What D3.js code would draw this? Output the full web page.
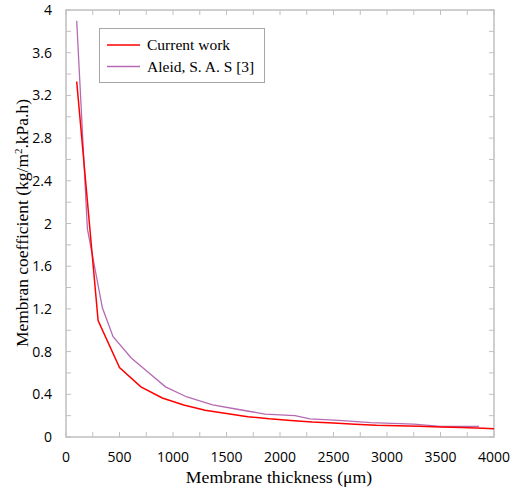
<!DOCTYPE html>
<html>
<head>
<meta charset="utf-8">
<script src="https://cdn.jsdelivr.net/npm/d3@7"></script>
<style>
    body { margin: 0; background: #fff; }
</style>
</head>
<body>
<svg id="canvas" width="514" height="490"></svg>
<script>
// values
var currentX = [100, 300, 500, 700, 900, 1100, 1300, 1500, 1700, 1900, 2100, 2300, 2500, 2700, 2900, 3100, 3300, 3500, 3700, 3900, 4000];
var currentY = [3.33, 1.09, 0.65, 0.47, 0.365, 0.30, 0.25, 0.22, 0.19, 0.17, 0.155, 0.14, 0.13, 0.12, 0.11, 0.105, 0.10, 0.093, 0.088, 0.082, 0.078];
var aleidX = [100, 200, 340, 440, 610, 740, 930, 1130, 1370, 1600, 1860, 2140, 2280, 2550, 2850, 3250, 3500, 3860];
var aleidY = [3.90, 1.95, 1.21, 0.94, 0.74, 0.63, 0.47, 0.375, 0.30, 0.26, 0.215, 0.20, 0.17, 0.155, 0.135, 0.12, 0.10, 0.10];
var xTicks = [0, 500, 1000, 1500, 2000, 2500, 3000, 3500, 4000];
var yTicks = [0, 0.4, 0.8, 1.2, 1.6, 2, 2.4, 2.8, 3.2, 3.6, 4];
var seriesNames = ['Current work', 'Aleid, S. A. S [3]'];
var seriesColors = ['#ff0000', '#b56ab4'];

(function() {
    var svg = d3.select('#canvas');
    var left = 66, right = 494, top = 10, bottom = 437;
    var frameColor = '#c0c0c0';

    var x = d3.scaleLinear().domain([0, 4000]).range([left, right]);
    var y = d3.scaleLinear().domain([0, 4]).range([bottom, top]);

    var minorX = d3.range(0, 4001, 250);
    var minorY = d3.range(0, 41, 2).map(function(d) { return d / 10; });

    // inward ticks on all four sides
    var ticks = svg.append('g').attr('stroke', frameColor).attr('stroke-width', 1);
    minorX.forEach(function(v) {
        ticks.append('line').attr('x1', x(v)).attr('x2', x(v)).attr('y1', bottom).attr('y2', bottom - 5);
        ticks.append('line').attr('x1', x(v)).attr('x2', x(v)).attr('y1', top).attr('y2', top + 5);
    });
    minorY.forEach(function(v) {
        ticks.append('line').attr('y1', y(v)).attr('y2', y(v)).attr('x1', left).attr('x2', left + 5);
        ticks.append('line').attr('y1', y(v)).attr('y2', y(v)).attr('x1', right).attr('x2', right - 5);
    });

    svg.append('rect')
        .attr('x', left)
        .attr('y', top)
        .attr('width', right - left)
        .attr('height', bottom - top)
        .attr('fill', 'none')
        .attr('stroke', frameColor)
        .attr('stroke-width', '1.5px');

    // tick labels
    svg.append('g').selectAll('text')
        .data(xTicks)
        .enter().append('text')
        .attr('x', function(d) { return x(d); })
        .attr('y', 462)
        .attr('text-anchor', 'middle')
        .attr('font-family', 'Open Sans, sans-serif')
        .attr('font-size', '14px')
        .attr('fill', '#000')
        .text(function(d) { return d; });

    svg.append('g').selectAll('text')
        .data(yTicks)
        .enter().append('text')
        .attr('x', 52)
        .attr('y', function(d) { return y(d) + 5; })
        .attr('text-anchor', 'end')
        .attr('font-family', 'Open Sans, sans-serif')
        .attr('font-size', '14px')
        .attr('fill', '#000')
        .text(function(d) { return d; });

    // series
    var line = d3.line()
        .x(function(d) { return x(d[0]); })
        .y(function(d) { return y(d[1]); });

    var currentData = d3.zip(currentX, currentY);
    var aleidData = d3.zip(aleidX, aleidY);

    svg.append('path')
        .datum(aleidData)
        .attr('d', line)
        .attr('fill', 'none')
        .attr('stroke', seriesColors[1])
        .attr('stroke-width', '1.3px');

    svg.append('path')
        .datum(currentData)
        .attr('d', line)
        .attr('fill', 'none')
        .attr('stroke', seriesColors[0])
        .attr('stroke-width', '1.5px');

    // legend
    var legend = svg.append('g');
    legend.append('rect')
        .attr('x', 99.5)
        .attr('y', 28.5)
        .attr('width', 165)
        .attr('height', 54)
        .attr('fill', '#fff')
        .attr('stroke', '#a6a6a6')
        .attr('stroke-width', 1);
    seriesNames.forEach(function(name, i) {
        var ly = 45 + i * 21.5;
        legend.append('line')
            .attr('x1', 107).attr('x2', 140)
            .attr('y1', ly).attr('y2', ly)
            .attr('stroke', seriesColors[i])
            .attr('stroke-width', 1.3);
        legend.append('text')
            .attr('x', 147)
            .attr('y', ly + 5)
            .attr('font-family', 'Liberation Serif, serif')
            .attr('font-size', '15.5px')
            .attr('fill', '#000')
            .text(name);
    });

    // axis titles
    svg.append('text')
        .attr('x', 279)
        .attr('y', 483)
        .attr('text-anchor', 'middle')
        .attr('font-family', 'Liberation Serif, serif')
        .attr('font-size', '17.7px')
        .attr('fill', '#000')
        .text('Membrane thickness (\u03bcm)');

    var yTitle = svg.append('text')
        .attr('transform', 'translate(28,' + 223 + ') rotate(-90)')
        .attr('text-anchor', 'middle')
        .attr('font-family', 'Liberation Serif, serif')
        .attr('font-size', '17.5px')
        .attr('fill', '#000');
    yTitle.append('tspan').text('Membran coefficient (kg/m');
    yTitle.append('tspan').attr('dy', -6).attr('font-size', '11px').text('2');
    yTitle.append('tspan').attr('dy', 6).text('.kPa.h)');
})();
</script>
</body>
</html>
